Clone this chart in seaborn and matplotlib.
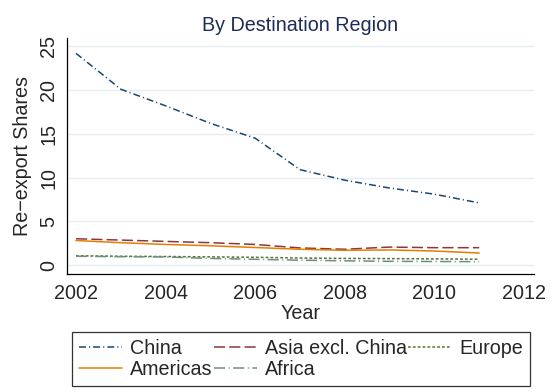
import matplotlib
matplotlib.use("Agg")
import matplotlib.pyplot as plt
from matplotlib.lines import Line2D
import pandas as pd
import seaborn as sns

years = [2002, 2003, 2004, 2005, 2006, 2007, 2008, 2009, 2010, 2011]
china = [24.2, 20.1, 18.2, 16.2, 14.5, 10.9, 9.7, 8.8, 8.1, 7.1]
asia_excl_china = [3.0, 2.85, 2.7, 2.55, 2.35, 1.95, 1.8, 2.05, 1.98, 1.98]
europe = [1.06, 1.0, 0.97, 0.93, 0.88, 0.8, 0.75, 0.73, 0.7, 0.66]
americas = [2.8, 2.55, 2.35, 2.2, 2.0, 1.8, 1.68, 1.72, 1.6, 1.37]
africa = [1.0, 0.95, 0.92, 0.75, 0.65, 0.55, 0.48, 0.42, 0.4, 0.38]

regions = ["China", "Asia excl. China", "Europe", "Americas", "Africa"]
series = [china, asia_excl_china, europe, americas, africa]
y_ticks = [0, 5, 10, 15, 20, 25]
x_ticks = [2002, 2004, 2006, 2008, 2010, 2012]

sns.set_theme(style="white")
plt.rcParams["font.family"] = ["Liberation Sans", "DejaVu Sans"]
plt.rcParams["lines.scale_dashes"] = False

colors = {
    "China": "#1a476f",
    "Asia excl. China": "#90353b",
    "Europe": "#55752f",
    "Americas": "#e37e00",
    "Africa": "#6e8e84",
}
dashes = {
    "China": (5, 2.2, 0.8, 2.2),
    "Asia excl. China": (8, 3),
    "Europe": (2, 1.5),
    "Americas": "",
    "Africa": (8, 2.5, 0.8, 2.5),
}

df = pd.DataFrame(
    [(y, r, v) for r, vals in zip(regions, series) for y, v in zip(years, vals)],
    columns=["Year", "Region", "Share"],
)

fig = plt.figure(figsize=(5.59, 3.92), dpi=100)
ax = fig.add_axes([0.12, 0.301, 0.835, 0.603])

sns.lineplot(
    data=df, x="Year", y="Share", hue="Region", style="Region",
    hue_order=regions, style_order=regions,
    palette=colors, dashes=dashes, linewidth=1.1, legend=False, ax=ax,
)

ax.set_xlim(2001.8, 2012.22)
ax.set_ylim(-1.03, 26.0)
ax.set_xticks(x_ticks)
ax.set_yticks(y_ticks)
ax.tick_params(axis="both", labelsize=14.2, length=5, width=0.8,
               color="black", direction="out", pad=2)
ax.tick_params(axis="y", labelrotation=90, pad=1.5)
for lbl in ax.get_yticklabels():
    lbl.set_va("center")
ax.yaxis.grid(True, color="#e6eef1", linewidth=1.0)
ax.xaxis.grid(False)
for side in ("top", "right"):
    ax.spines[side].set_visible(False)
for side in ("left", "bottom"):
    ax.spines[side].set_color("black")
    ax.spines[side].set_linewidth(0.9)

ax.set_xlabel("Year", fontsize=14.2, labelpad=1)
ax.set_ylabel("Re\u2212export Shares", fontsize=14.2, labelpad=5)
ax.set_title("By Destination Region", fontsize=14.2, color="#1e2d55", pad=5)

# legend arranged row-wise in three columns
order = ["China", "Americas", "Asia excl. China", "Africa", "Europe"]
handles = []
for r in order:
    d = dashes[r]
    h = Line2D([], [], color=colors[r], linewidth=1.1)
    if d:
        h.set_dashes(d)
    handles.append(h)
leg = fig.legend(
    handles, order, loc="upper left",
    bbox_to_anchor=(72 / 559, 1 - 332 / 392),
    ncol=3, fontsize=14.2, frameon=True, fancybox=False,
    handlelength=2.2, handletextpad=0.4, columnspacing=0.05,
    labelspacing=0.12, borderpad=0.35, borderaxespad=0,
)
leg.get_frame().set_edgecolor("black")
leg.get_frame().set_linewidth(0.9)

fig.savefig("out.png", dpi=100, facecolor="white")
